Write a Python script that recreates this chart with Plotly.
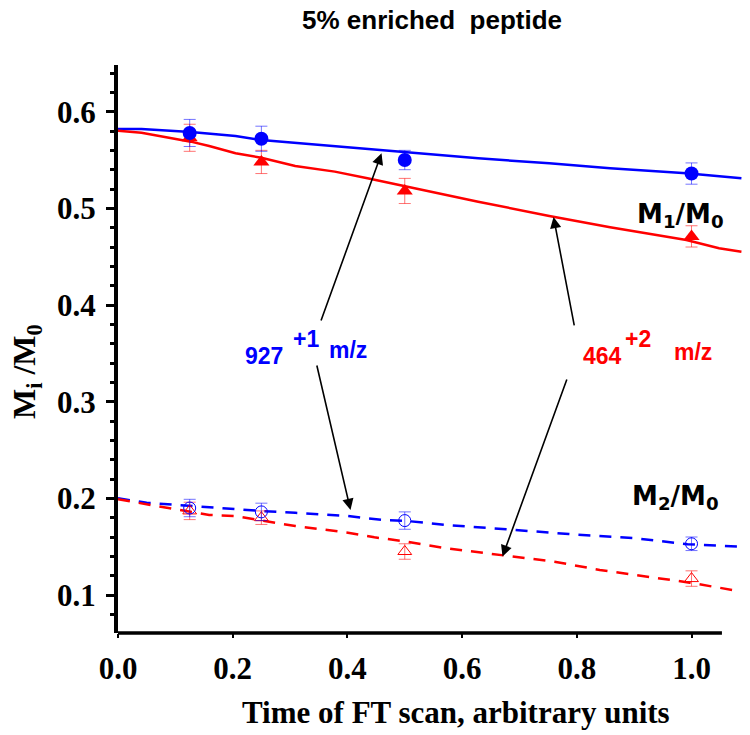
import plotly.graph_objects as go

# ---------------- data ----------------
t_meas = [0.125, 0.25, 0.5, 1.0]

m1_927 = [0.578, 0.572, 0.550, 0.536]
m1_927_err = [0.014, 0.013, 0.010, 0.011]
m1_464 = [0.573, 0.548, 0.518, 0.471]
m1_464_err = [0.014, 0.012, 0.013, 0.011]

m2_927 = [0.190, 0.186, 0.177, 0.153]
m2_927_err = [0.009, 0.009, 0.009, 0.007]
m2_464 = [0.187, 0.180, 0.145, 0.117]
m2_464_err = [0.009, 0.007, 0.008, 0.008]

t_sim_m1_927 = [0, 0.041, 0.127, 0.205, 0.25, 0.52, 0.628, 0.752, 0.858, 0.991, 1.087]
sim_m1_927 = [0.5821, 0.5821, 0.579, 0.5749, 0.5707, 0.557, 0.5518, 0.5466, 0.5414, 0.5363, 0.5311]

t_sim_m1_464 = [0, 0.041, 0.127, 0.159, 0.205, 0.25, 0.309, 0.378, 0.435, 0.522,
                0.628, 0.752, 0.858, 0.991, 1.048, 1.087]
sim_m1_464 = [0.5803, 0.5783, 0.569, 0.5645, 0.557, 0.5524, 0.5438, 0.538, 0.5311, 0.520,
              0.5069, 0.4921, 0.4804, 0.4673, 0.4587, 0.4552]

t_sim_m2_927 = [0, 0.05, 0.08, 0.127, 0.159, 0.205, 0.25, 0.309, 0.361, 0.401, 0.435,
                0.464, 0.504, 0.573, 0.677, 0.786, 0.902, 0.993, 1.087]
sim_m2_927 = [0.200, 0.1954, 0.1941, 0.192, 0.1913, 0.1886, 0.1869, 0.1851, 0.1835, 0.1817,
              0.1793, 0.1776, 0.1766, 0.1724, 0.168, 0.1631, 0.1587, 0.1525, 0.150]

t_sim_m2_464 = [0, 0.05, 0.08, 0.127, 0.159, 0.205, 0.25, 0.28, 0.309, 0.361, 0.401,
                0.447, 0.504, 0.573, 0.68, 0.761, 0.84, 0.927, 0.997, 1.078]
sim_m2_464 = [0.199, 0.1941, 0.1907, 0.1862, 0.1828, 0.1817, 0.1776, 0.1742, 0.1714, 0.1673,
              0.1645, 0.1597, 0.1552, 0.1483, 0.1404, 0.1345, 0.1259, 0.119, 0.1128, 0.1045]

x_ticks = [0.0, 0.2, 0.4, 0.6, 0.8, 1.0]
x_tick_labels = ["0.0", "0.2", "0.4", "0.6", "0.8", "1.0"]
y_ticks = [0.1, 0.2, 0.3, 0.4, 0.5, 0.6]
y_tick_labels = ["0.1", "0.2", "0.3", "0.4", "0.5", "0.6"]

# ---------------- layout geometry ----------------
W, H = 750, 735
L, T = 118, 65
PW, PH = 624, 568
R = W - L - PW
B = H - T - PH
X_RANGE = [0, 1.088]
Y_RANGE = [0.0607, 0.6483]

BLUE = "#0000ff"
RED = "#ff0000"
SERIF = "Liberation Serif, Times New Roman, serif"
SANS = "Liberation Sans, Arial, sans-serif"
VERD = "DejaVu Sans, Verdana, sans-serif"


def pp(xpx, ypx):
    """window pixel -> paper fraction"""
    return (xpx - L) / PW, (T + PH - ypx) / PH


fig = go.Figure()

# simulated curves
fig.add_trace(go.Scatter(x=t_sim_m1_927, y=sim_m1_927, mode="lines",
                         line=dict(color=BLUE, width=2.5)))
fig.add_trace(go.Scatter(x=t_sim_m1_464, y=sim_m1_464, mode="lines",
                         line=dict(color=RED, width=2.5)))
fig.add_trace(go.Scatter(x=t_sim_m2_927, y=sim_m2_927, mode="lines",
                         line=dict(color=BLUE, width=2.5, dash="12px,9px")))
fig.add_trace(go.Scatter(x=t_sim_m2_464, y=sim_m2_464, mode="lines",
                         line=dict(color=RED, width=2.5, dash="12px,9px")))

# measured points
fig.add_trace(go.Scatter(x=t_meas, y=m1_464, mode="markers",
                         marker=dict(symbol="triangle-up", size=14, color=RED),
                         error_y=dict(type="data", array=m1_464_err, color="rgba(255,0,0,0.55)",
                                      thickness=1, width=6)))
fig.add_trace(go.Scatter(x=t_meas, y=m1_927, mode="markers",
                         marker=dict(symbol="circle", size=14, color=BLUE),
                         error_y=dict(type="data", array=m1_927_err, color="rgba(0,0,255,0.55)",
                                      thickness=1, width=6)))
fig.add_trace(go.Scatter(x=t_meas, y=m2_464, mode="markers",
                         marker=dict(symbol="triangle-up-open", size=12, color=RED,
                                     line=dict(width=1, color=RED)),
                         error_y=dict(type="data", array=m2_464_err, color="rgba(255,0,0,0.55)",
                                      thickness=1, width=6)))
fig.add_trace(go.Scatter(x=t_meas, y=m2_927, mode="markers",
                         marker=dict(symbol="circle-open", size=12, color=BLUE,
                                     line=dict(width=1, color=BLUE)),
                         error_y=dict(type="data", array=m2_927_err, color="rgba(0,0,255,0.55)",
                                      thickness=1, width=6)))

annotations = []


def txt(text, xpx, ypx, size, color="black", family=SANS, angle=0):
    xp, yp = pp(xpx, ypx)
    annotations.append(dict(text=text, x=xp, y=yp, xref="paper", yref="paper",
                            xanchor="center", yanchor="middle", showarrow=False,
                            textangle=angle,
                            font=dict(size=size, color=color, family=family, weight="bold")))


# title and axis titles
txt("5% enriched&nbsp; peptide", 432, 20, 26)
txt("Time of FT scan, arbitrary units", 456, 712, 31, family=SERIF)
txt("M<sub>i</sub> /M<sub>0</sub>", 26, 372, 32, family=SERIF, angle=-90)

# series labels
txt("M<sub>1</sub>/M<sub>0</sub>", 680, 215, 26, family=VERD)
txt("M<sub>2</sub>/M<sub>0</sub>", 675, 497, 26, family=VERD)

txt("927", 264, 356, 23, color=BLUE)
txt("+1", 306, 339, 23, color=BLUE)
txt("m/z", 348, 350, 23, color=BLUE)
txt("464", 602, 356, 23, color=RED)
txt("+2", 638, 339, 23, color=RED)
txt("m/z", 693, 352, 23, color=RED)

# arrows (head x, head y, tail x, tail y) in data units
arrows = [
    (0.4595, 0.557, 0.3531, 0.3824),
    (0.4054, 0.188, 0.3461, 0.339),
    (0.7594, 0.491, 0.796, 0.3773),
    (0.6704, 0.1398, 0.7835, 0.3245),
]
for hx, hy, tx, ty in arrows:
    annotations.append(dict(x=hx, y=hy, ax=tx, ay=ty, xref="x", yref="y",
                            axref="x", ayref="y", text="", showarrow=True,
                            arrowhead=2, arrowsize=1.4, arrowwidth=1.6,
                            arrowcolor="black"))

fig.update_layout(
    width=W, height=H,
    margin=dict(l=L, r=R, t=T, b=B, autoexpand=False),
    paper_bgcolor="white", plot_bgcolor="white",
    showlegend=False,
    annotations=annotations,
    shapes=[dict(type="line", xref="x", yref="paper", x0=-0.004, x1=1.053, y0=0, y1=0,
                 line=dict(color="black", width=3.5), layer="above")],
    xaxis=dict(range=X_RANGE, showgrid=False, zeroline=False, showline=False,
               tickmode="array", tickvals=x_ticks, ticktext=x_tick_labels,
               ticks="outside", ticklen=4, tickwidth=2, tickcolor="black",
               ticklabelstandoff=4,
               tickfont=dict(family=SERIF, size=31, color="black", weight="bold")),
    yaxis=dict(range=Y_RANGE, showgrid=False, zeroline=False, showline=True,
               linecolor="black", linewidth=4,
               tickmode="array", tickvals=y_ticks, ticktext=y_tick_labels,
               ticks="outside", ticklen=8, tickwidth=3, tickcolor="black",
               ticklabelstandoff=4,
               minor=dict(tickmode="linear", tick0=0, dtick=0.02, ticks="outside",
                          ticklen=4, tickwidth=3, tickcolor="black", showgrid=False),
               tickfont=dict(family=SERIF, size=31, color="black", weight="bold")),
)

# remove the browser's default 8px body margin so the figure sits at the window corner
fig.write_html("out.html", config={"displayModeBar": False},
               post_script="document.body.style.margin='0';")
